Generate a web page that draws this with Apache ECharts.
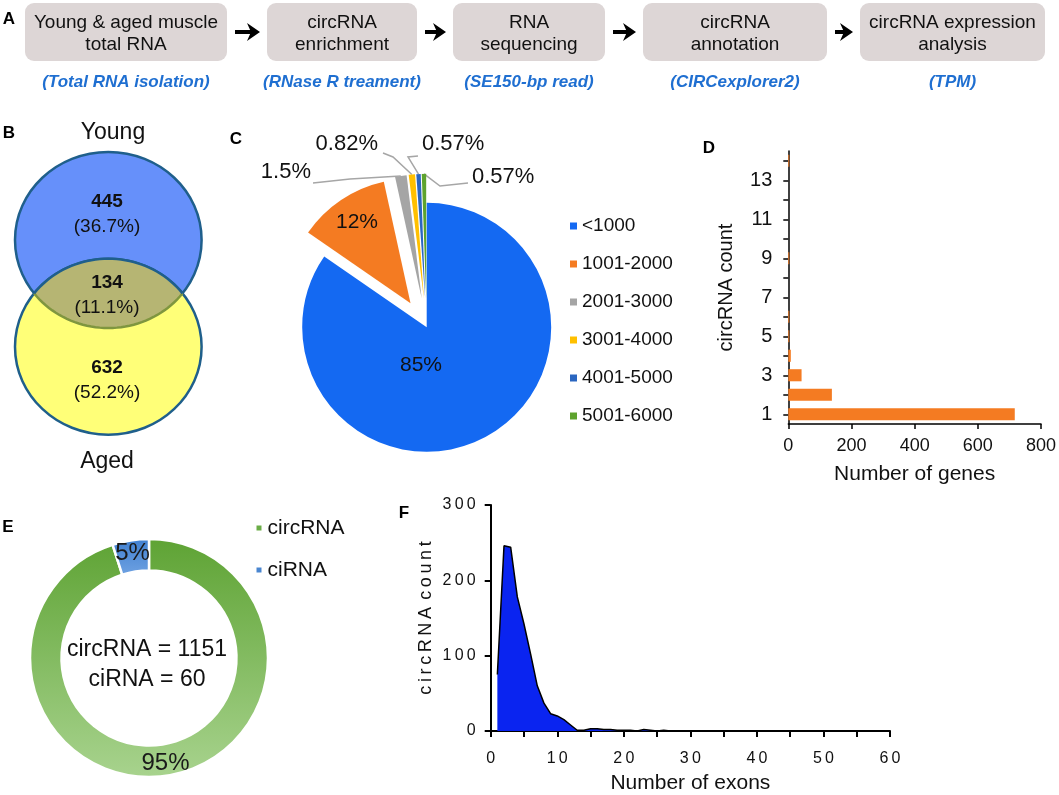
<!DOCTYPE html>
<html><head><meta charset="utf-8">
<script src="https://cdn.jsdelivr.net/npm/echarts@6/dist/echarts.min.js"></script>
<style>html,body{margin:0;padding:0;background:#fff}#c{width:1059px;height:795px}</style>
</head><body><div id="c"></div>
<script>
// ---------------- data ----------------
const flowSteps = ['Young & aged muscle\ntotal RNA', 'circRNA\nenrichment', 'RNA\nsequencing', 'circRNA\nannotation', 'circRNA expression\nanalysis'];
const flowNotes = ['(Total RNA isolation)', '(RNase R treament)', '(SE150-bp read)', '(CIRCexplorer2)', '(TPM)'];

const vennSets = ['Young', 'Aged'];
const vennCounts = [445, 134, 632];          // young only, shared, aged only
const vennPercents = ['36.7%', '11.1%', '52.2%'];

const lenCategories = ['<1000', '1001-2000', '2001-3000', '3001-4000', '4001-5000', '5001-6000'];
const lenPercents = [85, 12, 1.5, 0.82, 0.57, 0.57];

const geneCircCounts = ['1', '2', '3', '4', '5', '6', '7', '8', '9', '10', '11', '12', '13', '14'];
const geneNumbers = [717, 138, 42, 8, 3, 3, 0, 0, 3, 0, 0, 0, 0, 3];

const typeNames = ['circRNA', 'ciRNA'];
const typeCounts = [1151, 60];

const exonNumbers = [1, 2, 3, 4, 5, 6, 7, 8, 9, 10, 11, 12, 13, 14, 15, 16, 17, 18, 19, 20,
  21, 22, 23, 24, 25, 26, 27, 28, 29, 30, 31, 32, 33, 34, 35, 36, 37, 38, 39, 40,
  41, 42, 43, 44, 45, 46, 47, 48, 49, 50, 51, 52, 53, 54, 55];
const exonCircCounts = [75, 246, 244, 178, 142, 102, 60, 37, 23, 20, 15, 8, 1, 1, 3, 3, 2, 2, 1, 1,
  1, 0, 2, 1, 0, 1, 0, 0, 0, 0, 0, 0, 0, 0, 0, 0, 0, 0, 0, 0,
  0, 0, 0, 0, 0, 0, 0, 0, 0, 0, 0, 0, 0, 0, 0];

// ---------------- layout / style ----------------
const FONT = '"Liberation Sans", Arial, Helvetica, sans-serif';
const TXT = '#111';
const pieColors = ['#1469f2', '#f47b22', '#a5a5a5', '#ffc000', '#2a66c0', '#5ea32e'];
const spaced = s => String(s).split('').join('\u2009');

const chart = echarts.init(document.getElementById('c'), null, { renderer: 'canvas' });
const g = [];
function txt(x, y, text, font, fill, align, vAlign) {
  g.push({
    type: 'text', x: x, y: y, z: 10,
    style: { text: text, font: font, fill: fill || TXT, align: align || 'center', textAlign: align || 'center',
      verticalAlign: vAlign || 'middle', textVerticalAlign: vAlign || 'middle' }
  });
}

// Panel A : workflow
const boxes = [[25, 227], [267, 417], [453, 605], [643, 827], [860, 1045]];
boxes.forEach((b, i) => {
  g.push({ type: 'rect', z: 1, shape: { x: b[0], y: 3, width: b[1] - b[0], height: 58, r: 9 }, style: { fill: '#ddd6d6' } });
  g.push({ type: 'text', z: 10, x: (b[0] + b[1]) / 2, y: 34,
    style: { text: flowSteps[i], font: '19px ' + FONT, fill: TXT, align: 'center', textAlign: 'center',
      verticalAlign: 'middle', textVerticalAlign: 'middle', lineHeight: 22 } });
  txt((b[0] + b[1]) / 2, 82, flowNotes[i], 'italic bold 17px ' + FONT, '#1f6fd1');
  if (i < boxes.length - 1) {
    const x1 = b[1] + 8, x2 = boxes[i + 1][0] - 7, y = 32;
    g.push({ type: 'line', z: 5, shape: { x1: x1, y1: y, x2: x2 - 8, y2: y }, style: { stroke: '#000', lineWidth: 4 } });
    g.push({ type: 'polygon', z: 5, shape: { points: [[x2, y], [x2 - 13, y - 9], [x2 - 9, y], [x2 - 13, y + 9]] }, style: { fill: '#000' } });
  }
});

// Panel B : Venn
const V = { cx: 108.3, cyY: 240, cyA: 346.7, rx: 93.3, ry: 88 };
g.push({ type: 'ellipse', z: 2, shape: { cx: V.cx, cy: V.cyY, rx: V.rx, ry: V.ry }, style: { fill: '#6690fa', stroke: '#1f5f8b', lineWidth: 2.5 } });
g.push({ type: 'ellipse', z: 3, shape: { cx: V.cx, cy: V.cyA, rx: V.rx, ry: V.ry }, style: { fill: '#ffff78', stroke: '#1f5f8b', lineWidth: 2.5 } });
(function () {
  const half = (V.cyA - V.cyY) / 2;
  const t0 = Math.asin(half / V.ry);
  const bottomArc = [], topArc = [];
  const N = 40;
  for (let k = 0; k <= N; k++) {
    const t = t0 + (Math.PI - 2 * t0) * k / N;
    bottomArc.push([V.cx + V.rx * Math.cos(t), V.cyY + V.ry * Math.sin(t)]);
    topArc.push([V.cx + V.rx * Math.cos(t), V.cyA - V.ry * Math.sin(t)]);
  }
  const lens = bottomArc.concat(topArc.slice().reverse());
  g.push({ type: 'polygon', z: 4, shape: { points: lens }, style: { fill: '#b6b573' } });
  g.push({ type: 'polyline', z: 5, shape: { points: bottomArc }, style: { stroke: '#7f963f', lineWidth: 2.5, fill: null } });
  g.push({ type: 'polyline', z: 5, shape: { points: topArc }, style: { stroke: '#1f5f8b', lineWidth: 2.5, fill: null } });
})();
txt(113, 133, vennSets[0], '23px ' + FONT);
txt(107, 462, vennSets[1], '23px ' + FONT);
const vennY = [[202, 227], [283, 308], [368, 393]];
vennCounts.forEach((c, i) => {
  txt(107, vennY[i][0], String(c), 'bold 19px ' + FONT);
  txt(107, vennY[i][1], '(' + vennPercents[i] + ')', '19px ' + FONT);
});

// Panel E centre text
txt(147, 650, typeNames[0] + ' = ' + typeCounts[0], '23px ' + FONT);
txt(147, 680, typeNames[1] + ' = ' + typeCounts[1], '23px ' + FONT);

// Panel letters
[['A', 9, 19], ['B', 9, 133], ['C', 236, 139], ['D', 709, 148], ['E', 8, 527], ['F', 404, 513]].forEach(l => {
  txt(l[1], l[2], l[0], 'bold 17px ' + FONT, '#000');
});

// ---------------- Panel C: exploded pie (one series per slice) ----------------
const C_CENTER = [426.7, 327.3], C_R = 124.5, C_OFF = 29;
const cLabelPos = [
  { x: 421, y: 365, align: 'center' },
  { x: 357, y: 222, align: 'center' },
  { x: 311, y: 172, align: 'right', line: [[350, 179], [313, 183]] },
  { x: 378, y: 144, align: 'right', line: [[393, 157], [383, 153]] },
  { x: 422, y: 144, align: 'left', line: [[408, 157], [418, 156]] },
  { x: 472, y: 177, align: 'left', line: [[440, 186], [468, 183]] }
];
const lenTotal = lenPercents.reduce((a, b) => a + b, 0);
let accum = 0;
const pieCSeries = lenCategories.map((name, i) => {
  const startDeg = accum / lenTotal * 360;
  accum += lenPercents[i];
  const mid = (startDeg + lenPercents[i] / lenTotal * 180) * Math.PI / 180;
  const off = i === 0 ? 0 : C_OFF;
  const outside = i > 1;
  return {
    type: 'pie', center: [C_CENTER[0] + off * Math.sin(mid), C_CENTER[1] - off * Math.cos(mid)],
    radius: C_R, startAngle: 90, clockwise: true, avoidLabelOverlap: false, silent: true,
    emphasis: { disabled: true },
    data: lenCategories.map((n, j) => ({
      name: n, value: lenPercents[j],
      itemStyle: { color: j === i ? pieColors[j] : 'rgba(0,0,0,0)' },
      label: { show: j === i },
      labelLine: { show: j === i && outside }
    })),
    label: { position: outside ? 'outside' : 'inside', formatter: p => p.value + '%',
      fontSize: outside ? 22 : 21, color: TXT, fontFamily: FONT },
    labelLine: { length: 10, length2: 10, lineStyle: { color: '#a6a6a6', width: 1.5 } },
    labelLayout: function (p) {
      const c = cLabelPos[p.dataIndex];
      const r = { x: c.x, y: c.y, align: c.align, verticalAlign: 'middle' };
      if (c.line && p.labelLinePoints) r.labelLinePoints = [p.labelLinePoints[0], c.line[0], c.line[1]];
      return r;
    }
  };
});

const greenGrad = new echarts.graphic.LinearGradient(0, 0, 0, 1, [{ offset: 0, color: '#5ea334' }, { offset: 1, color: '#a8d38e' }]);
const blueGrad = new echarts.graphic.LinearGradient(0, 0, 0, 1, [{ offset: 0, color: '#3f7fd0' }, { offset: 1, color: '#6fa2e2' }]);

const axisBlack = { show: true, lineStyle: { color: '#000', width: 1.5 } };

const option = {
  animation: false,
  backgroundColor: '#fff',
  textStyle: { fontFamily: FONT },
  graphic: { elements: g },
  legend: [
    { data: lenCategories.map((n, i) => ({ name: n, itemStyle: { color: pieColors[i] } })),
      orient: 'vertical', left: 570, top: 216, padding: 0, itemWidth: 7, itemHeight: 7, itemGap: 18,
      icon: 'rect', selectedMode: false, textStyle: { fontSize: 19, color: TXT, lineHeight: 20, fontFamily: FONT } },
    { data: [{ name: typeNames[0], itemStyle: { color: '#6aad47' } }, { name: typeNames[1], itemStyle: { color: '#4a86d0' } }],
      orient: 'vertical', left: 254.5, top: 517, padding: 0, itemWidth: 7, itemHeight: 7, itemGap: 20,
      icon: 'rect', selectedMode: false, textStyle: { fontSize: 21, color: TXT, lineHeight: 22, fontFamily: FONT } }
  ],
  grid: [
    { left: 788.3, top: 151, width: 253.4, height: 273 },
    { left: 490.7, top: 505, width: 399.3, height: 227.3 }
  ],
  xAxis: [
    { gridIndex: 0, type: 'value', min: 0, max: 800, interval: 200, splitLine: { show: false },
      axisLine: axisBlack, axisTick: { show: true, length: 5, lineStyle: { color: '#000', width: 1.5 } },
      axisLabel: { fontSize: 18, color: TXT, margin: 13 },
      name: 'Number of genes', nameLocation: 'middle', nameGap: 40, nameTextStyle: { fontSize: 21, color: TXT } },
    { gridIndex: 1, type: 'value', min: 0, max: 60, interval: 5, splitLine: { show: false },
      axisLine: { show: true, lineStyle: { color: '#000', width: 2 } },
      axisTick: { show: true, length: 6, lineStyle: { color: '#000', width: 2 } },
      axisLabel: { fontSize: 16, color: TXT, margin: 20, formatter: v => (v % 10 === 0 ? spaced(v) : '') },
      name: 'Number of exons', nameLocation: 'middle', nameGap: 42, nameTextStyle: { fontSize: 21, color: TXT } }
  ],
  yAxis: [
    { gridIndex: 0, type: 'category', data: geneCircCounts,
      axisLine: axisBlack, axisTick: { show: true, alignWithLabel: true, interval: 0, length: 5, lineStyle: { color: '#000', width: 1.5 } },
      axisLabel: { interval: 1, fontSize: 20, color: TXT, margin: 16 },
      name: 'circRNA count', nameLocation: 'middle', nameGap: 52, nameTextStyle: { fontSize: 20, color: TXT } },
    { gridIndex: 1, type: 'value', min: 0, max: 300, interval: 100, splitLine: { show: false },
      axisLine: { show: true, lineStyle: { color: '#000', width: 2 } },
      axisTick: { show: true, length: 6, lineStyle: { color: '#000', width: 2 } },
      axisLabel: { fontSize: 16, color: TXT, margin: 15, formatter: v => spaced(v) },
      name: spaced('circRNA') + '\u2009\u2009' + spaced('count'), nameLocation: 'middle', nameGap: 56, nameTextStyle: { fontSize: 18, color: TXT } }
  ],
  series: pieCSeries.concat([
    { type: 'bar', xAxisIndex: 0, yAxisIndex: 0, data: geneNumbers, barWidth: '62%', itemStyle: { color: '#f47b22' } },
    { type: 'pie', center: [149, 658], radius: [87.5, 119], startAngle: 90, clockwise: true, avoidLabelOverlap: false,
      emphasis: { disabled: true },
      data: typeNames.map((n, i) => ({ name: n, value: typeCounts[i], itemStyle: { color: i === 0 ? greenGrad : blueGrad } })),
      itemStyle: { borderColor: '#fff', borderWidth: 2.5 },
      label: { show: true, position: 'inside', formatter: p => Math.round(p.percent) + '%', fontSize: 24, color: '#1a1a1a', fontFamily: FONT },
      labelLine: { show: false }
    },
    { type: 'line', xAxisIndex: 1, yAxisIndex: 1, data: exonNumbers.map((x, i) => [x, exonCircCounts[i]]),
      showSymbol: false, symbol: 'none', lineStyle: { color: '#000', width: 1.5 },
      areaStyle: { color: '#0a24f0', opacity: 1 } }
  ])
};
chart.setOption(option);
</script>
</body></html>
